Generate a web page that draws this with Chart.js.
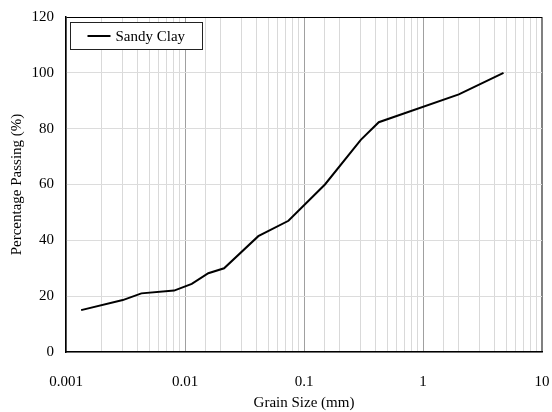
<!DOCTYPE html>
<html>
<head>
<meta charset="utf-8">
<script src="https://cdn.jsdelivr.net/npm/chart.js@4"></script>
<style>
  html, body { margin: 0; padding: 0; background: #fff; }
</style>
</head>
<body>
<canvas id="gradChart" width="552" height="412"></canvas>
<script>
// Grain size distribution (sieve + hydrometer)
const grainSize = [0.00134, 0.003, 0.0043, 0.0081, 0.0114, 0.0157, 0.0213, 0.0413, 0.074, 0.15, 0.3, 0.425, 2, 4.75];
const passing = [15, 18.6, 21, 22, 24.4, 28.2, 30, 41.5, 47, 60, 76, 82.3, 92.3, 100];
const seriesName = "Sandy Clay";
const yTicks = [0, 20, 40, 60, 80, 100, 120];

const FONT = "'Liberation Serif', 'Times New Roman', serif";

function isDecade(v) {
  const l = Math.log10(v);
  return Math.abs(l - Math.round(l)) < 1e-6;
}

// boxed legend in the top-left corner of the plot
const boxLegend = {
  id: "boxLegend",
  afterDraw(chart) {
    const ctx = chart.ctx;
    const area = chart.chartArea;
    const ds = chart.data.datasets[0];
    const bx = area.left + 4.5;
    const by = area.top + 5.5;
    const bw = 132;
    const bh = 27;
    ctx.save();
    ctx.fillStyle = "#fff";
    ctx.fillRect(bx, by, bw, bh);
    ctx.strokeStyle = "#222";
    ctx.lineWidth = 1;
    ctx.strokeRect(bx, by, bw, bh);
    ctx.strokeStyle = ds.borderColor;
    ctx.lineWidth = ds.borderWidth;
    ctx.beginPath();
    ctx.moveTo(bx + 17, by + bh / 2);
    ctx.lineTo(bx + 40, by + bh / 2);
    ctx.stroke();
    ctx.fillStyle = "#000";
    ctx.font = "15px " + FONT;
    ctx.textBaseline = "middle";
    ctx.fillText(ds.label, bx + 45, by + bh / 2 + 1);
    ctx.restore();
  },
};

const points = grainSize.map((g, i) => ({ x: g, y: passing[i] }));

new Chart(document.getElementById("gradChart").getContext("2d"), {
  type: "line",
  data: {
    datasets: [
      {
        label: seriesName,
        data: points,
        borderColor: "#000",
        borderWidth: 2,
        pointRadius: 0,
        fill: false,
        tension: 0,
      },
    ],
  },
  options: {
    responsive: false,
    animation: false,
    layout: { padding: { top: 17, right: 10, left: 0, bottom: 0 } },
    plugins: {
      legend: { display: false },
      tooltip: { enabled: false },
    },
    scales: {
      x: {
        type: "logarithmic",
        min: 0.001,
        max: 10,
        afterFit: (scale) => {
          scale.height = 60;
          scale.paddingLeft = 0;
          scale.paddingRight = 0;
        },
        border: { color: "#000", width: 1.5 },
        grid: {
          drawTicks: false,
          color: (c) => {
            const v = c.tick.value;
            if (v === 10) return "#808080";
            return isDecade(v) ? "#a0a0a0" : "#d9d9d9";
          },
          lineWidth: (c) => (c.tick.value === 10 ? 2 : 1),
        },
        ticks: {
          autoSkip: false,
          maxRotation: 0,
          padding: 21,
          color: "#000",
          font: { family: FONT, size: 15 },
          callback: (v) => (isDecade(v) ? String(Number(v.toPrecision(3))) : ""),
        },
        title: {
          display: true,
          text: "Grain Size (mm)",
          color: "#000",
          font: { family: FONT, size: 15 },
          padding: { top: 0, bottom: 0 },
        },
      },
      y: {
        min: 0,
        max: 120,
        afterFit: (scale) => {
          scale.width = 66;
          scale.paddingTop = 0;
          scale.paddingBottom = 0;
        },
        afterBuildTicks: (scale) => { scale.ticks = yTicks.map((v) => ({ value: v })); },
        border: { color: "#000", width: 1.5 },
        grid: {
          drawTicks: false,
          color: (c) => (c.tick.value === 120 ? "#000" : "#dcdcdc"),
        },
        ticks: {
          padding: 12,
          color: "#000",
          font: { family: FONT, size: 15 },
        },
        title: {
          display: true,
          text: "Percentage Passing (%)",
          color: "#000",
          font: { family: FONT, size: 15 },
          padding: { top: 8, bottom: 0 },
        },
      },
    },
  },
  plugins: [boxLegend],
});
</script>
</body>
</html>
